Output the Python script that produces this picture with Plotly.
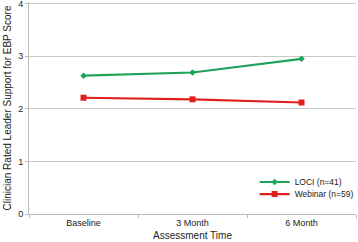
import plotly.graph_objects as go

categories = ["Baseline", "3 Month", "6 Month"]
loci = [2.63, 2.69, 2.95]
webinar = [2.21, 2.18, 2.12]
y_ticks = [0, 1, 2, 3, 4]

fig = go.Figure()
fig.add_trace(go.Scatter(x=categories, y=loci, mode="lines+markers", name="LOCI (n=41)",
                         legend="legend",
                         line=dict(color="#1fa25a", width=2.2),
                         marker=dict(symbol="diamond", size=5, color="#1fa25a")))
fig.add_trace(go.Scatter(x=categories, y=webinar, mode="lines+markers", name="Webinar (n=59)",
                         legend="legend2",
                         line=dict(color="#e0201e", width=2.2),
                         marker=dict(symbol="square", size=6, color="#e0201e")))

font = "Liberation Sans, Arial, sans-serif"
leg_common = dict(xanchor="left", yanchor="middle", bgcolor="rgba(0,0,0,0)",
                  font=dict(size=8.5), itemwidth=30)
fig.update_layout(
    width=358, height=242,
    margin=dict(l=29, r=2, t=2, b=28, autoexpand=False),
    paper_bgcolor="white", plot_bgcolor="white",
    font=dict(family=font, size=9, color="#222"),
    showlegend=True,
    legend=dict(x=0.69, y=0.151, **leg_common),
    legend2=dict(x=0.69, y=0.094, **leg_common),
    xaxis=dict(type="category", range=[-0.5, 2.5], showgrid=False,
               showline=True, linecolor="#bbb", linewidth=1,
               ticks="outside", tickson="boundaries", ticklen=3, tickcolor="#bbb",
               tickfont=dict(size=9),
               title=dict(text="Assessment Time", font=dict(size=10), standoff=5)),
    yaxis=dict(range=[0, 4.03], tickvals=y_ticks, showgrid=True, gridcolor="#c8c8c8",
               showline=True, linecolor="#bbb", linewidth=1, zeroline=False,
               ticks="outside", ticklen=3, tickcolor="#bbb",
               tickfont=dict(size=9), ticklabeloverflow="allow",
               title=dict(text="Clinician Rated Leader Support for EBP Score",
                          font=dict(size=10), standoff=4)),
)
fig.write_html("out.html", config={"displayModeBar": False},
               post_script="document.body.style.margin='0';document.body.style.overflow='hidden';")
